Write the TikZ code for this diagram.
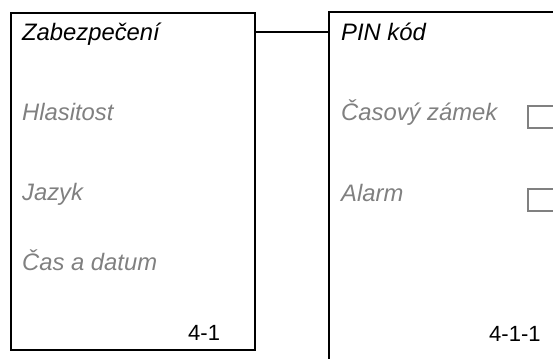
\documentclass[tikz,border=0pt]{standalone}
\usepackage{fontspec}
\setmainfont{Liberation Sans}
\definecolor{menugray}{RGB}{128,128,128}
\tikzset{
  x=1pt,y=-1pt,
  frame/.style={draw=black,line width=2pt,rectangle,inner sep=0pt},
  title/.style={anchor=base west,inner sep=0pt,font=\fontsize{23.8}{28}\selectfont\itshape,text=black},
  item/.style={anchor=base west,inner sep=0pt,font=\fontsize{23.8}{28}\selectfont\itshape,text=menugray},
  pagenum/.style={anchor=base west,inner sep=0pt,font=\fontsize{22}{26}\selectfont,text=black},
  checkbox/.style={draw=menugray,line width=2pt,rectangle,inner sep=0pt},
  link/.style={draw=black,line width=1.6pt}
}
\begin{document}
\begin{tikzpicture}
\useasboundingbox (0,0) rectangle (553,358);
\clip (0,0) rectangle (553,358);
% left screen
\node[frame,minimum width=244pt,minimum height=337pt] (menu) at (133,181.5) {};
\node[title] (zab) at (22,41) {Zabezpečení};
\node[item] (hla) at (22,120.5) {Hlasitost};
\node[item] (jaz) at (22,200.5) {Jazyk};
\node[item] (cas) at (22,270.5) {Čas a datum};
\node[pagenum] (n41) at (188,340) {4-1};
% right screen (extends beyond the picture)
\node[frame,minimum width=260pt,minimum height=380pt] (sub) at (459,202.5) {};
\node[title] (pin) at (341,41) {PIN kód};
\node[item] (zam) at (341,120.5) {Časový zámek};
\node[item] (ala) at (341,201.5) {Alarm};
\node[pagenum] (n411) at (489,341) {4-1-1};
\node[checkbox,minimum width=40pt,minimum height=22pt] (cb1) at (548,117) {};
\node[checkbox,minimum width=40pt,minimum height=22pt] (cb2) at (548,200) {};
% connector
\coordinate (lk) at (0,32);
\draw[link] (menu.east |- lk) -- (sub.west |- lk);
\end{tikzpicture}
\end{document}
